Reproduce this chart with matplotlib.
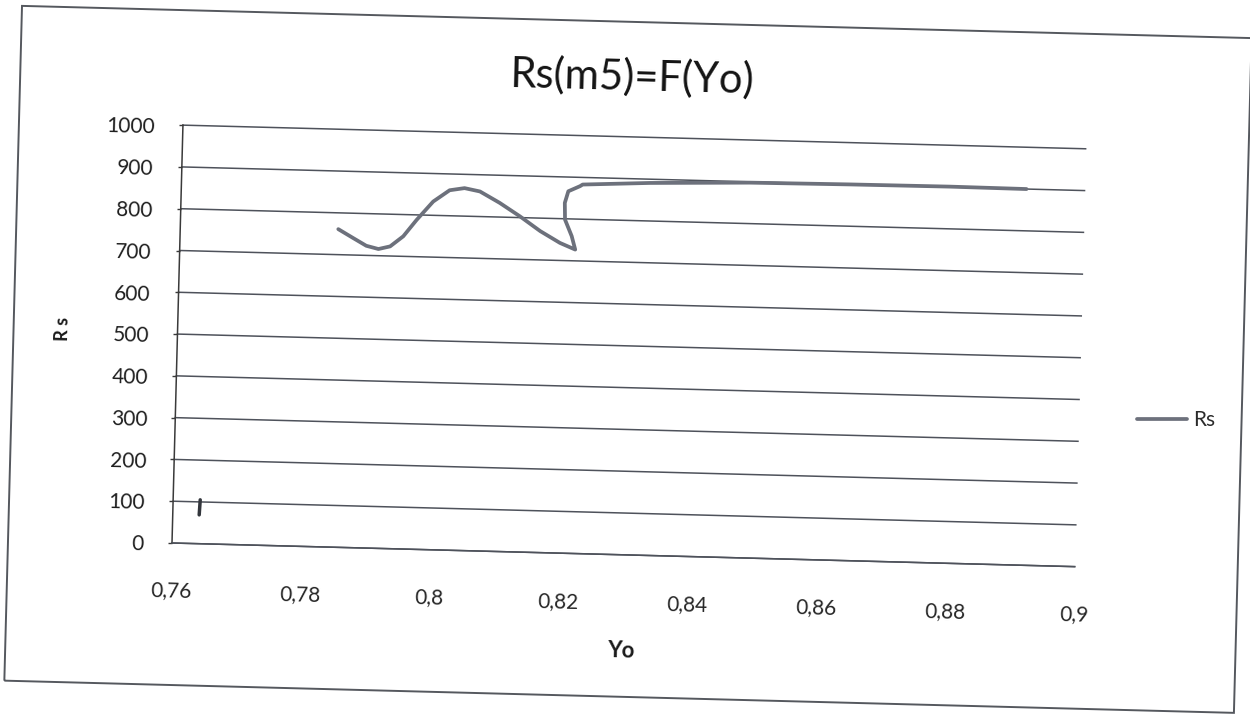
import matplotlib
matplotlib.use("Agg")
import matplotlib.pyplot as plt
import matplotlib.transforms as mtransforms
from matplotlib.artist import Artist
from matplotlib.lines import Line2D
from matplotlib.text import Text
from matplotlib.patches import Rectangle

plt.rcParams['font.family'] = ['Lato', 'DejaVu Sans']

# Rs as a function of Yo
yo = [0.7845, 0.7868, 0.7889, 0.7908, 0.7926, 0.7946, 0.7966, 0.7991, 0.8016,
      0.8039, 0.8063, 0.8094, 0.8126, 0.8158, 0.8189, 0.8213, 0.8207, 0.8196,
      0.8195, 0.8200, 0.8218, 0.8222, 0.8326, 0.8481, 0.8636, 0.8791, 0.8910]
rs = [761, 741, 723, 716, 723, 748, 788, 833, 861,
      867, 860, 834, 803, 769, 742, 727, 759, 798,
      838, 866, 879, 883, 891, 898, 900, 901, 900]

# short isolated piece near the start of the axis
yo_start = [0.7642, 0.7641]
rs_start = [105, 69]

x_ticks = [0.76, 0.78, 0.80, 0.82, 0.84, 0.86, 0.88, 0.90]
x_tick_labels = ['0,76', '0,78', '0,8', '0,82', '0,84', '0,86', '0,88', '0,9']
y_ticks = [0, 100, 200, 300, 400, 500, 600, 700, 800, 900, 1000]

W, H = 1250, 716
fig = plt.figure(figsize=(W / 100, H / 100), dpi=100)
fig.patch.set_facecolor('white')

ax = fig.add_axes([172 / W, 173 / H, 903 / W, 418 / H])
ax.patch.set_visible(False)
ax.set_xlim(0.76, 0.9)
ax.set_ylim(0, 1000)
ax.set_xticks(x_ticks)
ax.set_xticklabels(x_tick_labels)
ax.set_yticks(y_ticks)

grid_col = '#4e525b'
ax.grid(axis='y', color=grid_col, linewidth=1.1)
ax.set_axisbelow(True)
ax.spines[['top', 'right']].set_visible(False)
ax.spines['left'].set_color('#3a3a3a')
ax.spines['bottom'].set_color(grid_col)
ax.spines['left'].set_linewidth(1.1)
ax.spines['bottom'].set_linewidth(1.1)
ax.tick_params(axis='x', length=0, pad=27, labelsize=15, labelcolor='#262626')
ax.tick_params(axis='y', length=3, width=1, color='#3a3a3a', pad=17,
               labelsize=15, labelcolor='#1e1e1e')

line, = ax.plot(yo, rs, color='#6d717c', linewidth=2.7, solid_capstyle='round',
                solid_joinstyle='round')
ax.plot(yo_start, rs_start, color='#33363c', linewidth=2.5, solid_capstyle='round')

# the whole plot area sits slightly tilted on the page
fig.canvas.draw()
tilt = -1.5
rot = mtransforms.Affine2D().rotate_deg_around(172, 173, tilt)
spines = list(ax.spines.values())
for a in ax.findobj(lambda o: isinstance(o, (Line2D, Text)) or o in spines):
    a.set_transform(Artist.get_transform(a) + rot)
    a.set_clip_on(False)
    if isinstance(a, Text):
        a.set_rotation(a.get_rotation() + tilt)

# outer chart frame
fig.add_artist(Rectangle((8, 31), 1230, 675, transform=rot, fill=False,
                         edgecolor='#55585e', linewidth=1.4))

fig.text(632 / W, 1 - 77 / H, 'Rs(m5)=F(Yo)', fontsize=30, color='#141414',
         ha='center', va='center', rotation=tilt)
fig.text(63 / W, 1 - 329 / H, 'R s', fontsize=13, fontweight='bold',
         color='#1a1a1a', ha='center', va='center', rotation=90 + tilt)
fig.text(621 / W, 1 - 651 / H, 'Yo', fontsize=16, fontweight='bold',
         color='#1a1a1a', ha='center', va='center', rotation=tilt)

fig.legend(handles=[line], labels=['Rs'], loc='center',
           bbox_to_anchor=(1176 / W, 1 - 420 / H), frameon=False,
           handlelength=2.4, handletextpad=0.3, fontsize=15,
           labelcolor='#2b2b2b')

fig.savefig('out.png', dpi=100, facecolor='white')
